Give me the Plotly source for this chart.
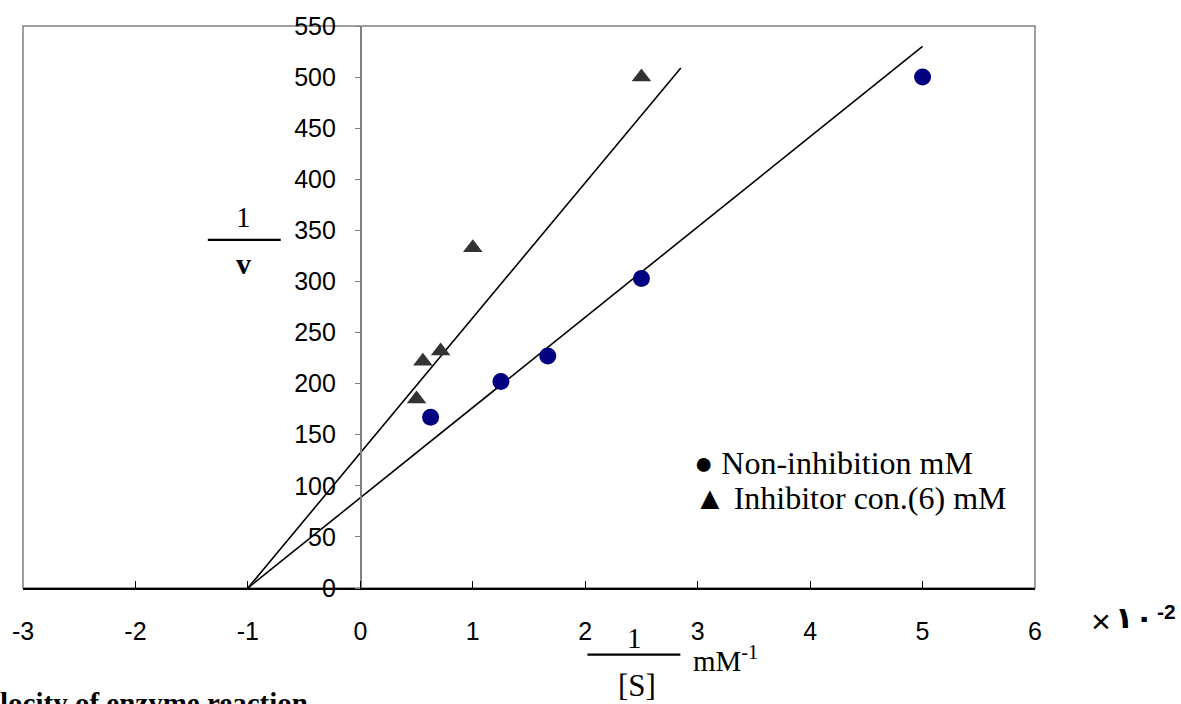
import plotly.graph_objects as go

# ---- data ----
non_inh_x = [0.625, 1.25, 1.667, 2.5, 5.0]
non_inh_y = [167, 202, 227, 303, 500]
inh_x = [0.5, 0.556, 0.714, 1.0, 2.5]
inh_y = [185, 222, 232, 333, 500]
fit_non_x = [-1, 5]
fit_non_y = [0, 530]
fit_inh_x = [-1, 2.85]
fit_inh_y = [0, 509]
x_ticks = [-3, -2, -1, 0, 1, 2, 3, 4, 5, 6]
y_ticks = list(range(0, 551, 50))

W, H = 1181, 704
L, R, T, B = 22, 1035, 23, 588  # plot area in pixels


def px(x):
    return (x - L) / (R - L)


def py(y):
    return (B - y) / (B - T)


SERIF = "Liberation Serif, Times New Roman, serif"
SANS = "Liberation Sans, Arial, sans-serif"

fig = go.Figure()
fig.add_trace(go.Scatter(x=fit_non_x, y=fit_non_y, mode="lines",
                         line=dict(color="black", width=1.6), showlegend=False))
fig.add_trace(go.Scatter(x=fit_inh_x, y=fit_inh_y, mode="lines",
                         line=dict(color="black", width=1.6), showlegend=False))
fig.add_trace(go.Scatter(x=non_inh_x, y=non_inh_y, mode="markers",
                         marker=dict(symbol="circle", size=17, color="#000080"),
                         showlegend=False))
fig.add_trace(go.Scatter(x=inh_x, y=inh_y, mode="markers",
                         marker=dict(symbol="triangle-up", size=17, color="#333333"),
                         showlegend=False))

fig.update_layout(
    width=W, height=H,
    margin=dict(l=L, r=W - R, t=T, b=H - B, pad=0),
    paper_bgcolor="white", plot_bgcolor="white",
    showlegend=False,
    xaxis=dict(range=[-3, 6], tickvals=x_ticks, ticktext=[str(v) for v in x_ticks],
               showgrid=False, zeroline=False, showline=True, linecolor="black",
               linewidth=1.5, ticks="inside", ticklen=7, tickcolor="black",
               tickwidth=1.2, tickfont=dict(family=SANS, size=25, color="black"),
               ticklabelstandoff=20),
    yaxis=dict(range=[0, 550], tickvals=y_ticks, ticktext=[str(v) for v in y_ticks],
               showgrid=False, zeroline=False, showline=True, linecolor="#808080",
               linewidth=1.5, ticks="outside", ticklen=5, tickcolor="#808080",
               anchor="free", position=px(360),
               tickfont=dict(family=SANS, size=25, color="black"),
               ticklabelstandoff=14),
)

# frame
fig.add_shape(type="rect", xref="paper", yref="paper", x0=0, x1=1, y0=0, y1=1,
              line=dict(color="#808080", width=1.5), layer="below")

ann = []


def text(x, y, t, size, family=SERIF, xanchor="center", yanchor="middle"):
    ann.append(dict(x=px(x), y=py(y), xref="paper", yref="paper", text=t,
                    showarrow=False, xanchor=xanchor, yanchor=yanchor,
                    font=dict(family=family, size=size, color="black")))


# y-axis label 1/v
text(243, 215, "1", 29)
text(243, 262, "<b>v</b>", 30)
fig.add_shape(type="line", xref="paper", yref="paper", x0=px(207), x1=px(280),
              y0=py(238), y1=py(238), line=dict(color="black", width=2.2))

# x-axis label 1/[S] mM^-1
text(634, 638, "1", 29)
text(637, 686, "[S]", 31)
fig.add_shape(type="line", xref="paper", yref="paper", x0=px(587), x1=px(680),
              y0=py(655), y1=py(655), line=dict(color="black", width=2.2))
text(691, 659, "mM<sup>-1</sup>", 29, xanchor="left")

# x10^-2 (Arabic-Indic digits)
text(1101, 621, "×", 34, family=SANS)
text(1124, 618, "<b>١</b>", 30, family="DejaVu Sans")
text(1144, 618, "<b>٠</b>", 30, family="DejaVu Sans")
text(1155, 612, "<b>-2</b>", 21, family=SANS, xanchor="left")

# legend text
text(692, 462, "● Non-inhibition mM", 32, xanchor="left")
text(692, 498, "▲ Inhibitor con.(6) mM", 32, xanchor="left")

# clipped caption
text(-3, 686, "<b>locity of enzyme reaction</b>", 29, xanchor="left", yanchor="top")

fig.update_layout(annotations=ann)
fig.write_html("out.html", config={"displayModeBar": False},
               post_script="document.body.style.margin='0px';")
